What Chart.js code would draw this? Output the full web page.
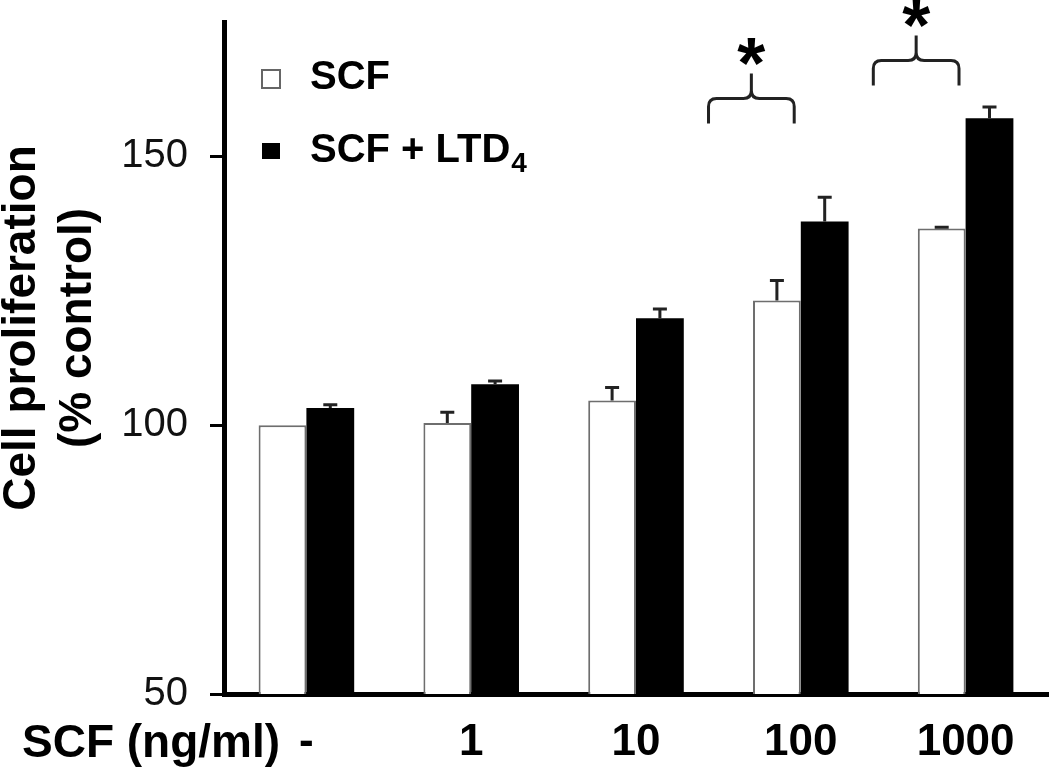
<!DOCTYPE html>
<html>
<head>
<meta charset="utf-8">
<script src="https://cdn.jsdelivr.net/npm/chart.js@4/dist/chart.umd.min.js"></script>
<style>
  html, body { margin: 0; padding: 0; background: #fff; }
</style>
</head>
<body>
<canvas id="myChart" width="1050" height="771"></canvas>
<script>
// data
var doses = ["-", "1", "10", "100", "1000"];
var scfValues = [100.0, 100.4, 104.6, 123.2, 136.6];
var scfErrors = [0, 2.0, 2.4, 3.7, 0.2];
var ltdValues = [103.2, 107.6, 119.9, 137.9, 157.1];
var ltdErrors = [0.6, 0.6, 1.7, 4.5, 2.1];
var yTicks = [50, 100, 150];
// significance brackets: category index and the value where the arms end
var sigIndex = [3, 4];
var sigLevel = [156.1, 163.2];

var FONT = "'Liberation Sans', Arial, sans-serif";

var extras = {
  id: 'extras',
  afterDatasetsDraw: function (chart) {
    var ctx = chart.ctx;
    var ys = chart.scales.y;
    var errs = [scfErrors, ltdErrors];
    var vals = [scfValues, ltdValues];

    // error bars (upper half only)
    ctx.save();
    ctx.strokeStyle = '#222';
    ctx.lineWidth = 3;
    for (var d = 0; d < 2; d++) {
      var meta = chart.getDatasetMeta(d);
      meta.data.forEach(function (bar, i) {
        if (!errs[d][i]) return;
        var yTop = ys.getPixelForValue(vals[d][i] + errs[d][i]);
        ctx.beginPath();
        ctx.moveTo(bar.x, bar.y);
        ctx.lineTo(bar.x, yTop);
        ctx.moveTo(bar.x - 7, yTop);
        ctx.lineTo(bar.x + 7, yTop);
        ctx.stroke();
      });
    }
    ctx.restore();
  },
  afterDraw: function (chart) {
    var ctx = chart.ctx;
    var xs = chart.scales.x, ys = chart.scales.y;
    var area = chart.chartArea;
    var catW = xs.width / doses.length;

    // brackets with asterisks
    ctx.save();
    ctx.strokeStyle = '#222';
    ctx.lineWidth = 3;
    ctx.fillStyle = '#000';
    ctx.font = 'bold 72px ' + FONT;
    ctx.textAlign = 'center';
    ctx.textBaseline = 'alphabetic';
    var m = ctx.measureText('*');
    sigIndex.forEach(function (idx, k) {
      var xc = xs.getPixelForValue(idx) - 0.3 * catW;
      var half = 0.26 * catW;
      var xl = xc - half, xr = xc + half;
      var yArm = ys.getPixelForValue(sigLevel[k]);
      var yBar = yArm - 25;
      var ySpike = yBar - 25;
      var r = 8;
      ctx.beginPath();
      ctx.moveTo(xl, yArm);
      ctx.lineTo(xl, yBar + r);
      ctx.quadraticCurveTo(xl, yBar, xl + r, yBar);
      ctx.lineTo(xc - r, yBar);
      ctx.quadraticCurveTo(xc, yBar, xc, yBar - r);
      ctx.lineTo(xc, ySpike);
      ctx.moveTo(xr, yArm);
      ctx.lineTo(xr, yBar + r);
      ctx.quadraticCurveTo(xr, yBar, xr - r, yBar);
      ctx.lineTo(xc + r, yBar);
      ctx.quadraticCurveTo(xc, yBar, xc, yBar - r);
      ctx.stroke();
      var cy = ySpike - 22;
      var base = cy - (m.actualBoundingBoxDescent - m.actualBoundingBoxAscent) / 2;
      ctx.fillText('*', xc, base);
    });
    ctx.restore();

    // legend
    ctx.save();
    var lx = area.left + 38;
    ctx.fillStyle = '#fff';
    ctx.strokeStyle = '#666';
    ctx.lineWidth = 2;
    ctx.fillRect(lx, 70, 18, 18);
    ctx.strokeRect(lx, 70, 18, 18);
    ctx.fillStyle = '#000';
    ctx.fillRect(lx, 143, 18, 16);
    ctx.font = 'bold 40px ' + FONT;
    ctx.textAlign = 'left';
    ctx.textBaseline = 'alphabetic';
    ctx.fillText('SCF', 310, 89);
    ctx.fillText('SCF + LTD', 310, 162);
    var w = ctx.measureText('SCF + LTD').width;
    ctx.font = 'bold 28px ' + FONT;
    ctx.fillText('4', 310 + w + 1, 172);
    ctx.restore();

    // y axis title (two lines)
    ctx.save();
    ctx.fillStyle = '#000';
    ctx.font = 'bold 46px ' + FONT;
    ctx.textAlign = 'center';
    ctx.textBaseline = 'middle';
    ctx.translate(22, 328);
    ctx.rotate(-Math.PI / 2);
    ctx.fillText('Cell proliferation', 0, 0);
    ctx.fillText('(% control)', 0, 56);
    ctx.restore();

    // x axis title at the left of the tick labels
    ctx.save();
    ctx.fillStyle = '#000';
    ctx.font = 'bold 46px ' + FONT;
    ctx.textAlign = 'left';
    ctx.textBaseline = 'alphabetic';
    ctx.fillText('SCF (ng/ml)', 22, 757);
    ctx.restore();
  }
};

var chartCanvas = document.getElementById('myChart');

var data = {
  labels: doses,
  datasets: [{
    label: 'SCF',
    data: scfValues,
    backgroundColor: '#ffffff',
    borderColor: '#6e6e6e',
    borderWidth: 2,
    borderSkipped: 'start'
  },
  {
    label: 'SCF + LTD4',
    data: ltdValues,
    backgroundColor: '#000000',
    borderColor: '#000000',
    borderWidth: 0
  }]
};

var options = {
  responsive: false,
  animation: false,
  layout: { padding: { top: 0, right: 2, left: 0, bottom: 0 } },
  datasets: {
    bar: { categoryPercentage: 0.58, barPercentage: 1.0 }
  },
  plugins: {
    legend: { display: false },
    tooltip: { enabled: false }
  },
  scales: {
    x: {
      grid: { display: false, drawTicks: false },
      border: { display: true, color: '#000', width: 5 },
      ticks: {
        color: '#000',
        padding: 22,
        font: { family: FONT, size: 44, weight: 'bold' }
      },
      afterFit: function (scale) { scale.height = 77; }
    },
    y: {
      min: 50,
      max: 175,
      afterBuildTicks: function (scale) {
        scale.ticks = yTicks.map(function (v) { return { value: v }; });
      },
      grid: {
        drawOnChartArea: false,
        drawTicks: true,
        tickLength: 14,
        tickWidth: 3,
        tickColor: '#000'
      },
      border: { display: true, color: '#000', width: 5 },
      ticks: {
        color: '#111',
        padding: 22,
        font: { family: FONT, size: 40 }
      },
      afterFit: function (scale) {
        scale.width = 224;
        scale.paddingTop = 22;
        scale.paddingBottom = 0;
      }
    }
  }
};

var myChart = new Chart(chartCanvas, {
  type: 'bar',
  data: data,
  options: options,
  plugins: [extras]
});
</script>
</body>
</html>
